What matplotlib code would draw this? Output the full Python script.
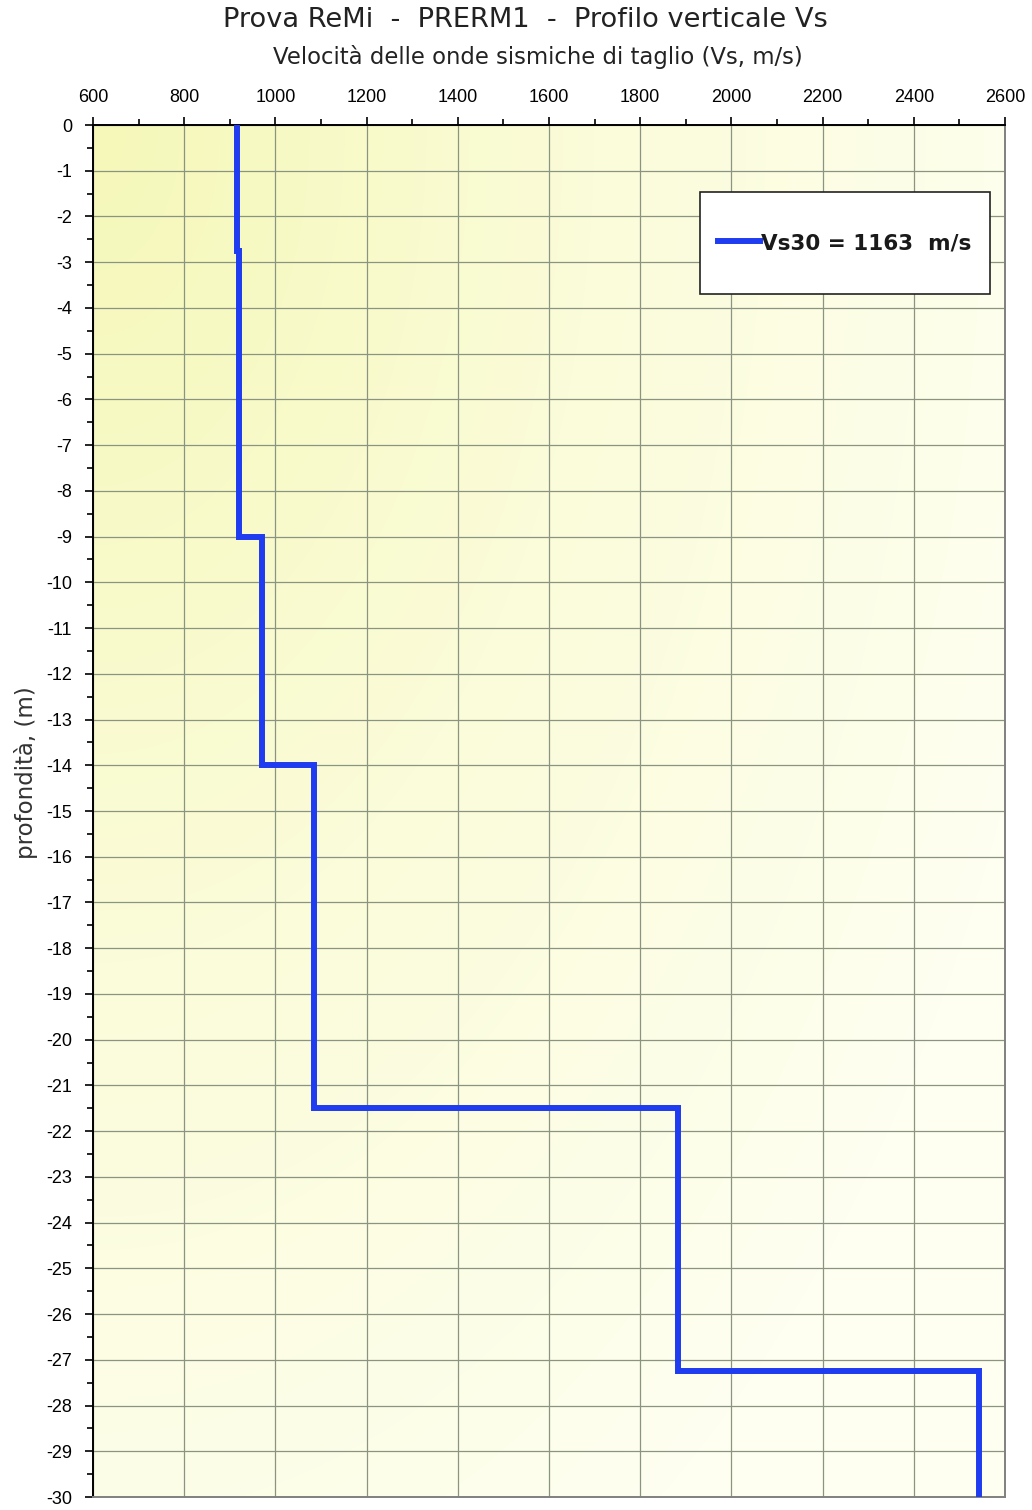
import numpy as np
import matplotlib.pyplot as plt
from matplotlib.ticker import MultipleLocator
from matplotlib.colors import LinearSegmentedColormap
from matplotlib.patches import Rectangle

plt.rcParams["axes.unicode_minus"] = False

# Layer boundaries (m) and shear-wave velocity of each layer (m/s)
layer_depths = [0, 2.75, 9, 14, 21.5, 27.25, 30]
layer_vs = [916, 920, 970, 1085, 1883, 2543]
vs30 = 1163

x_ticks = [600, 800, 1000, 1200, 1400, 1600, 1800, 2000, 2200, 2400, 2600]
y_ticks = list(range(0, -31, -1))

# staircase profile from the layer table
ys = -np.repeat(layer_depths, 2)[1:-1]
xs = np.repeat(layer_vs, 2)

fig = plt.figure(figsize=(10.32, 15.10), dpi=100)
ax = fig.add_axes([0.0901, 0.0086, 0.8837, 0.9086])

# pale yellow background, stronger in the top-left corner
gx, gy = np.meshgrid(np.linspace(0, 1, 200), np.linspace(0, 1, 300))
shade = np.clip(np.sqrt((gx * 1.0) ** 2 + (gy * 0.9) ** 2) / 1.1, 0, 1)
cmap = LinearSegmentedColormap.from_list("bg", ["#f5f8b8", "#fbfcd9", "#fefff0"])
ax.imshow(shade, cmap=cmap, extent=[600, 2600, -30, 0], aspect="auto",
          origin="upper", zorder=0, interpolation="bilinear")

ax.plot(xs, ys, color="#1f3cf0", lw=4.3, solid_joinstyle="miter", zorder=3,
        label=f"Vs30 = {vs30}  m/s")

ax.set_xlim(600, 2600)
ax.set_ylim(-30, 0)
ax.xaxis.tick_top()
ax.set_xticks(x_ticks)
ax.set_yticks(y_ticks)
ax.xaxis.set_minor_locator(MultipleLocator(100))
ax.yaxis.set_minor_locator(MultipleLocator(0.5))
ax.tick_params(axis="both", which="major", direction="out", length=6, width=1.2,
               labelsize=13, colors="black")
ax.tick_params(axis="x", which="major", pad=8)
ax.tick_params(axis="y", which="major", pad=9)
ax.tick_params(axis="both", which="minor", direction="out", length=4, width=1.2)
for lab in ax.get_xticklabels() + ax.get_yticklabels():
    lab.set_family("Liberation Sans")

ax.grid(True, which="major", color="#8a9480", lw=0.9, zorder=1)
ax.set_axisbelow(True)
for side in ["top", "left"]:
    ax.spines[side].set_color("black")
    ax.spines[side].set_linewidth(1.4)
for side in ["right", "bottom"]:
    ax.spines[side].set_color("#808080")
    ax.spines[side].set_linewidth(1.4)

fig.text(0.509, 0.987, "Prova ReMi  -  PRERM1  -  Profilo verticale Vs",
         ha="center", va="center", fontsize=19.6, color="#222222")
fig.text(0.521, 0.962, "Velocità delle onde sismiche di taglio (Vs, m/s)",
         ha="center", va="center", fontsize=16.4, color="#222222")
ax.set_ylabel("profondità, (m)", fontsize=16.5, color="#333333")
ax.yaxis.set_label_coords(-0.06, 0.528)

# legend box
ax.add_patch(Rectangle((0.6656, 0.8768), 0.318, 0.0744, transform=ax.transAxes,
                       facecolor="white", edgecolor="#222222", lw=1.2, zorder=4))
leg = ax.legend(loc="center left", bbox_to_anchor=(0.6853, 0.914), frameon=False,
                handlelength=1.95, handletextpad=0.05, borderpad=0, borderaxespad=0,
                prop={"weight": "bold", "size": 15.5})
leg.set_zorder(5)
for t in leg.get_texts():
    t.set_color("#1a1a1a")

fig.savefig("out.png", dpi=100)
